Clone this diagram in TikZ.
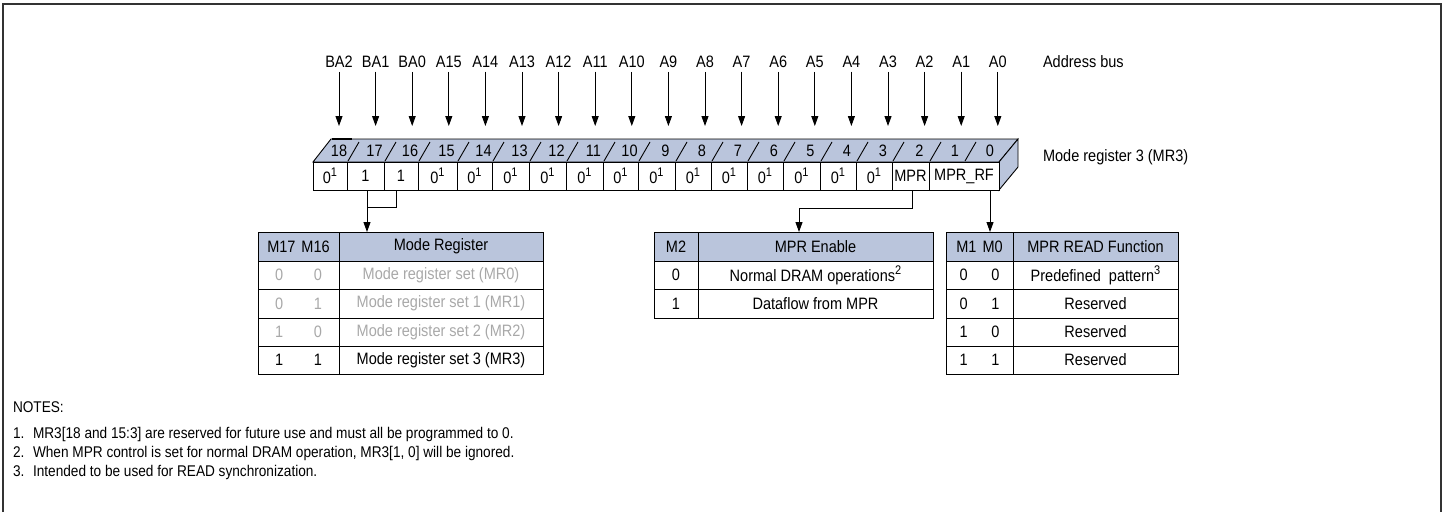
\documentclass[tikz,border=0pt]{standalone}
\usepackage{fontspec}
\setmainfont{Liberation Sans}[FakeStretch=0.88]
\usetikzlibrary{arrows.meta,calc}
\definecolor{hdrblue}{HTML}{BAC5DC}
\definecolor{greytxt}{HTML}{A8A8A8}
\definecolor{framec}{HTML}{333333}
\newcommand{\sps}[1]{\raisebox{0.42em}{\fontsize{12.5}{12.5}\selectfont #1}}
\begin{document}
\begin{tikzpicture}[x=1pt,y=-1pt,
  every node/.style={inner sep=0pt, outer sep=0pt},
  lbl/.style={font=\fontsize{16.5}{16.5}\selectfont},
  regtxt/.style={font=\fontsize{16.5}{16.5}\selectfont},
  cellbox/.style={draw, line width=0.9pt, minimum height=28pt, fill=white, font=\fontsize{16.5}{16.5}\selectfont},
  tcell/.style={draw, line width=0.9pt, anchor=north west, font=\fontsize{16.5}{16.5}\selectfont},
  thead/.style={tcell, fill=hdrblue},
  gtx/.style={text=greytxt},
  arr/.style={-{Triangle[length=10pt,width=7pt]}, line width=0.9pt},
  conn/.style={line width=0.9pt},
  notes/.style={font=\fontsize{15.5}{15.5}\selectfont, anchor=base west}]
\useasboundingbox (0,0) rectangle (1445,512);
\draw[framec, line width=2pt] (3,512) -- (3,4) -- (1441,4) -- (1441,512);

% address bus labels and arrows
\foreach \n [count=\i from 0] in {BA2,BA1,BA0,A15,A14,A13,A12,A11,A10,A9,A8,A7,A6,A5,A4,A3,A2,A1,A0} {
  \node[lbl] (l\n) at ({339+36.6*\i},62) {\n};
  \coordinate (e\n) at ({339+36.6*\i},126);
  \draw[arr, shorten <=4pt] (l\n.south) -- (e\n);
}
\node[lbl, anchor=west] (abus) at (1043,62) {Address bus};
\node[lbl, anchor=west] (mr3) at (1043,157) {Mode register 3 (MR3)};

% register 3D body
\draw[line width=0.9pt, fill=hdrblue] (313,162) -- (331,139) -- (1018,139) -- (999,162) -- cycle;
\draw[line width=0.9pt, fill=hdrblue] (999,162) -- (1018,139) -- (1018,167) -- (999,190) -- cycle;
\draw[line width=2pt] (332,139) -- (352,139);

% slashes in top band
\foreach \x in {347,384,418,457,492,529,566,603,638,675,711,747,783,820,856,892,929,964} {
  \draw[line width=0.9pt] (\x+1,161) -- (\x+12,142);
}
% top band bit numbers
\foreach \b/\x in {18/339,17/374.5,16/410,15/446.5,14/483.5,13/519.5,12/556.5,11/593.5,10/629.5,9/665.5,8/702,7/738,6/774,5/810.5,4/847,3/883,2/919.5,1/955,0/990} {
  \node[regtxt] (t\b) at (\x,151) {\b};
}

% register cells
\foreach \l/\r/\nm/\tx in {313/347/c18/{0\sps{1}},347/384/c17/1,384/418/c16/1,418/457/c15/{0\sps{1}},457/492/c14/{0\sps{1}},492/529/c13/{0\sps{1}},529/566/c12/{0\sps{1}},566/603/c11/{0\sps{1}},603/638/c10/{0\sps{1}},638/675/c9/{0\sps{1}},675/711/c8/{0\sps{1}},711/747/c7/{0\sps{1}},747/783/c6/{0\sps{1}},783/820/c5/{0\sps{1}},820/856/c4/{0\sps{1}},856/892/c3/{0\sps{1}},892/929/cMPR/MPR,929/999/cRF/MPR\_RF} {
  \node[cellbox, minimum width={\r-\l}] (\nm) at ({(\l+\r)/2},176) {\tx};
}

% Table 1
\node[thead, minimum width=81pt, minimum height=29pt] (h1a) at (258,232) {M17\hspace{6pt}M16};
\node[thead, minimum width=204pt, minimum height=29pt] (h1b) at (339,232) {Mode Register};
\node[tcell, gtx, minimum width=81pt, minimum height=28pt] (r1a1) at (258,261) {\makebox[47pt]{0\hfill0}};
\node[tcell, gtx, minimum width=204pt, minimum height=28pt] (r1b1) at (339,261) {Mode register set (MR0)};
\node[tcell, gtx, minimum width=81pt, minimum height=29pt] (r1a2) at (258,289) {\makebox[47pt]{0\hfill1}};
\node[tcell, gtx, minimum width=204pt, minimum height=29pt] (r1b2) at (339,289) {Mode register set 1 (MR1)};
\node[tcell, gtx, minimum width=81pt, minimum height=28pt] (r1a3) at (258,318) {\makebox[47pt]{1\hfill0}};
\node[tcell, gtx, minimum width=204pt, minimum height=28pt] (r1b3) at (339,318) {Mode register set 2 (MR2)};
\node[tcell, minimum width=81pt, minimum height=28pt] (r1a4) at (258,346) {\makebox[47pt]{1\hfill1}};
\node[tcell, minimum width=204pt, minimum height=28pt] (r1b4) at (339,346) {Mode register set 3 (MR3)};

% Table 2
\node[thead, minimum width=44pt, minimum height=29pt] (h2a) at (654,232) {M2};
\node[thead, minimum width=235pt, minimum height=29pt] (h2b) at (698,232) {MPR Enable};
\node[tcell, minimum width=44pt, minimum height=28pt] (r2a1) at (654,261) {0};
\node[tcell, minimum width=235pt, minimum height=28pt] (r2b1) at (698,261) {Normal DRAM operations\sps{2}};
\node[tcell, minimum width=44pt, minimum height=29pt] (r2a2) at (654,289) {1};
\node[tcell, minimum width=235pt, minimum height=29pt] (r2b2) at (698,289) {Dataflow from MPR};

% Table 3
\node[thead, minimum width=67pt, minimum height=29pt] (h3a) at (946,232) {M1\hspace{6pt}M0};
\node[thead, minimum width=165pt, minimum height=29pt] (h3b) at (1013,232) {MPR READ Function};
\node[tcell, minimum width=67pt, minimum height=28pt] (r3a1) at (946,261) {\makebox[40pt]{0\hfill0}};
\node[tcell, minimum width=165pt, minimum height=28pt] (r3b1) at (1013,261) {Predefined\ \ pattern\sps{3}};
\node[tcell, minimum width=67pt, minimum height=29pt] (r3a2) at (946,289) {\makebox[40pt]{0\hfill1}};
\node[tcell, minimum width=165pt, minimum height=29pt] (r3b2) at (1013,289) {Reserved};
\node[tcell, minimum width=67pt, minimum height=28pt] (r3a3) at (946,318) {\makebox[40pt]{1\hfill0}};
\node[tcell, minimum width=165pt, minimum height=28pt] (r3b3) at (1013,318) {Reserved};
\node[tcell, minimum width=67pt, minimum height=28pt] (r3a4) at (946,346) {\makebox[40pt]{1\hfill1}};
\node[tcell, minimum width=165pt, minimum height=28pt] (r3b4) at (1013,346) {Reserved};

% connectors
\coordinate (p17) at ([xshift=1.5pt]c17.south);
\coordinate (p16) at ([xshift=-5pt]c16.south);
\coordinate (k1) at (367,207);
\draw[conn] (p16) |- (k1);
\draw[arr] (p17) -- (p17 |- h1b.north);
\coordinate (pM) at ([xshift=1.5pt]cMPR.south);
\coordinate (k2) at (799,208);
\draw[arr] (pM) |- (k2) -- (k2 |- h2b.north);
\coordinate (pR) at ([xshift=26pt]cRF.south);
\draw[arr] (pR) -- (pR |- h3a.north);

% notes
\node[notes] (nt) at (13,412.5) {NOTES:};
\node[notes] (n1) at (13,438.5) {1.};
\node[notes] (n1t) at (33,438.5) {MR3[18 and 15:3] are reserved for future use and must all be programmed to 0.};
\node[notes] (n2) at (13,457.5) {2.};
\node[notes] (n2t) at (33,457.5) {When MPR control is set for normal DRAM operation, MR3[1, 0] will be ignored.};
\node[notes] (n3) at (13,476.5) {3.};
\node[notes] (n3t) at (33,476.5) {Intended to be used for READ synchronization.};
\end{tikzpicture}
\end{document}
